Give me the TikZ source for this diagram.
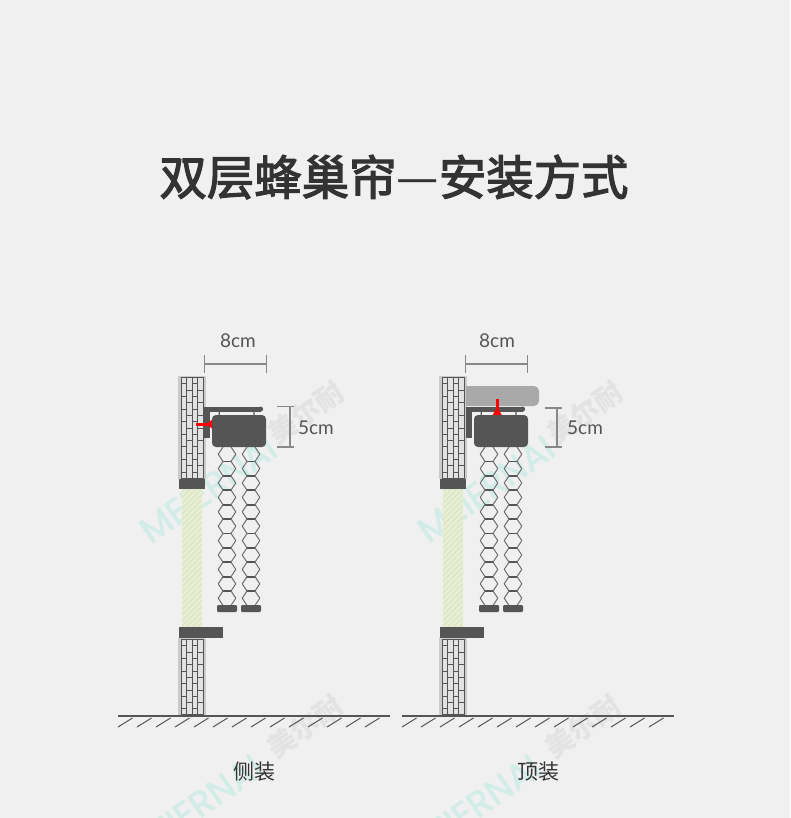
\documentclass[tikz,border=0pt]{standalone}
\usepackage{fontspec}
\setmainfont{Lato}
\newfontfamily\cjk{Noto Sans CJK SC}
\newfontfamily\cjktitle[FakeBold=2.6]{Noto Sans CJK SC}
\newfontfamily\wmfont[FakeBold=1.2]{Poppins}
\definecolor{bgc}{HTML}{F0F0F0}
\definecolor{darkc}{HTML}{555555}
\definecolor{inkc}{HTML}{333333}
\definecolor{framec}{HTML}{CBCBCB}
\definecolor{brickc}{HTML}{E2E2E2}
\definecolor{glassc}{HTML}{DEE8C6}
\definecolor{glasshatch}{HTML}{EAF0D9}
\definecolor{wmcyan}{HTML}{D2ECE8}
\definecolor{wmgrey}{HTML}{E3E3E3}
\definecolor{dimc}{HTML}{888888}
\definecolor{topc}{HTML}{A9A9A9}
\tikzset{
  dark/.style={fill=darkc,draw=none},
  dimline/.style={draw=dimc,line width=1.2pt},
  brickline/.style={draw=darkc,line width=0.8pt},
  dimtext/.style={text=darkc,font=\fontsize{19}{19}\selectfont,inner sep=0pt},
  captext/.style={text=inkc,font=\cjk\fontsize{21}{21}\selectfont,inner sep=0pt},
  wmlat/.style={text=wmcyan,font=\wmfont\fontsize{36}{36}\selectfont,inner sep=0pt,rotate=35},
  wmcjk/.style={text=wmgrey,font=\cjk\bfseries\fontsize{28}{28}\selectfont,inner sep=0pt,rotate=35},
  hexside/.style={draw=darkc!85!white,line width=1pt},
  hexflat/.style={draw=darkc,line width=1.8pt},
}
% brick wall between y=#1 and y=#2 (x 178-205)
\newcommand\brickwall[2]{%
  \fill[framec] (178,#1) rectangle (205.5,#2);
  \fill[brickc] (181,#1+1.5) rectangle (203,#2-0.5);
  \begin{scope}
    \clip (181,#1+1.5) rectangle (203,#2-0.5);
    \pgfmathtruncatemacro\nrows{(#2-#1)/6.3+1}
    \foreach \r in {0,...,\nrows}{
      \pgfmathsetmacro\ya{#1+1.5+\r*6.3}
      \ifodd\r
        \draw[brickline] (181,\ya) -- (186.5,\ya) (192,\ya) -- (197.5,\ya);
      \else
        \draw[brickline] (186.5,\ya) -- (192,\ya) (197.5,\ya) -- (203,\ya);
      \fi
    }
    \draw[brickline] (186.5,#1) -- (186.5,#2) (192,#1) -- (192,#2) (197.5,#1) -- (197.5,#2);
  \end{scope}
  \draw[brickline] (181,#1+1.5) rectangle (203,#2-0.5);
}
% one column of cells centred on x=#1
\newcommand\cellcolumn[1]{%
  \foreach \i in {0,...,10}{
    \pgfmathsetmacro\ya{447+\i*14.4}
    \pgfmathsetmacro\ym{\ya+7.2}
    \pgfmathsetmacro\yb{\ya+14.4}
    \draw[hexside,line join=round] (#1+4,\ya) -- (#1+8.8,\ym) -- (#1+4,\yb) (#1-4,\yb) -- (#1-8.8,\ym) -- (#1-4,\ya);
    \draw[hexflat] (#1-4.3,\yb) -- (#1+4.3,\yb);
  }
  \fill[darkc,rounded corners=1.2pt] (#1-10,605) rectangle (#1+10,612);
}
% wall, glass, lintel and sill
\newcommand\wallset{%
  \brickwall{376}{479}
  \fill[glassc] (182,489) rectangle (202,627);
  \begin{scope}
    \clip (182,489) rectangle (202,627);
    \foreach \k in {0,...,28}{
      \draw[glasshatch,line width=1.6pt] (182,489+\k*5.6) -- (202,469+\k*5.6);
    }
  \end{scope}
  \fill[dark] (178.5,478.5) rectangle (205,489);
  \brickwall{638}{715}
  \fill[dark] (178.5,627) rectangle (223,637.5);
}
% bracket, headrail and cells (left origin as in the left-hand view)
\newcommand\railset{%
  \fill[dark] (204,406.5) rectangle (260.5,411.7);
  \fill[dark] (260.5,409.1) circle[radius=2.6];
  \fill[dark] (204,406.5) rectangle (210,438);
  \fill[dark] (218.7,411) rectangle (219.9,416) (253.4,411) rectangle (254.6,416);
  \fill[dark,rounded corners=4pt] (212,415) rectangle (266,447);
  \cellcolumn{227}
  \cellcolumn{251}
}
% ground line from x=#1 to x=#2
\newcommand\groundline[2]{%
  \draw[draw=darkc,line width=2.8pt] (#1,716) -- (#2,716);
  \foreach \h in {0,...,13}{
    \draw[draw=darkc,line width=1pt] (#1+\h*19,727) -- (#1+\h*19+14.5,718);
  }
}
\begin{document}
\begin{tikzpicture}[x=1pt,y=-1pt]
\useasboundingbox (0,0) rectangle (790,818);
\fill[bgc] (0,0) rectangle (790,818);

% watermarks
\node[wmlat] (wa) at (208,489) {MEIERNAI};
\node[wmcjk] (wb) at (306,413) {美尔耐};
\node[wmlat] (wc) at (486,489) {MEIERNAI};
\node[wmcjk] (wd) at (585,413) {美尔耐};
\node[wmlat] (we) at (194,808) {MEIERNAI};
\node[wmcjk] (wf) at (305,727) {美尔耐};
\node[wmlat] (wg) at (472,808) {MEIERNAI};
\node[wmcjk] (wh) at (583,727) {美尔耐};

% title
\node[text=inkc,font=\cjktitle\fontsize{47.4}{47.4}\selectfont,inner sep=0pt] (title) at (394,177) {双层蜂巢帘{\cjk —}安装方式};

% left view
\wallset
\railset
\fill[red] (196,422.7) rectangle (208,425.5);
\fill[red] (207,424.1) -- (212,419.6) -- (212,428.6) -- cycle;
\draw[dimline] (204.5,355) -- (204.5,373) (266.5,355) -- (266.5,373) (204.5,364) -- (266.5,364);
\draw[dimline] (277,406.5) -- (294,406.5) (277,447) -- (294,447) (290,406.5) -- (290,447);
\node[dimtext] (la) at (238,341) {8cm};
\node[dimtext] (lb) at (316,428) {5cm};
\groundline{118}{390}
\node[captext] (ca) at (254,772) {侧装};

% right view
\begin{scope}[xshift=261pt]
  \wallset
\end{scope}
\fill[topc,rounded corners=5pt] (466,386) -- (539,386) -- (539,406) -- (466,406) -- cycle;
\fill[topc] (466,386) rectangle (474,406);
\begin{scope}[xshift=262pt]
  \railset
\end{scope}
\fill[red] (495.8,399) rectangle (498.6,410);
\fill[red] (497.2,406.5) -- (501.7,415) -- (492.7,415) -- cycle;
\draw[dimline] (465.5,355) -- (465.5,373) (527.5,355) -- (527.5,373) (465.5,364) -- (527.5,364);
\draw[dimline] (545,408) -- (562,408) (545,447) -- (562,447) (557,408) -- (557,447);
\node[dimtext] (lc) at (497,341) {8cm};
\node[dimtext] (ld) at (585,428) {5cm};
\groundline{402}{674}
\node[captext] (cb) at (538,772) {顶装};
\end{tikzpicture}
\end{document}
